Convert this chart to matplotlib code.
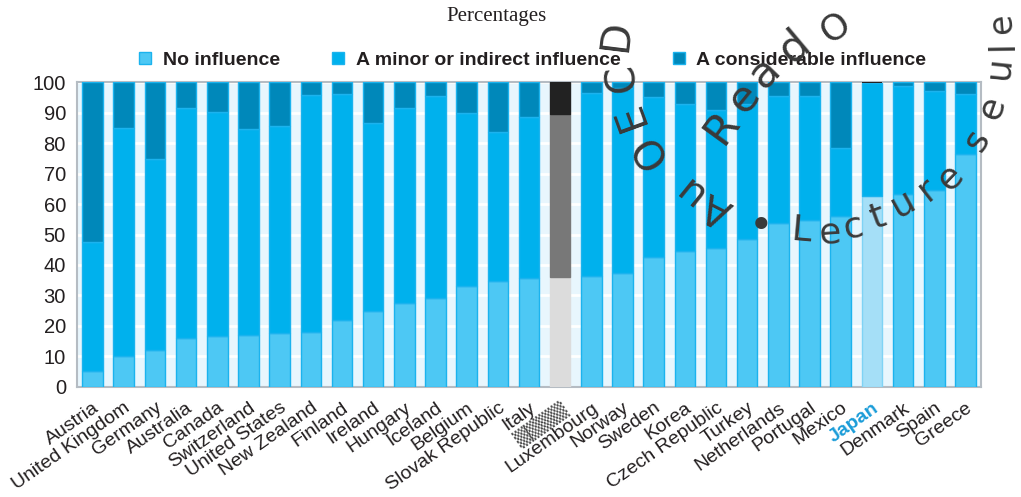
import matplotlib
matplotlib.use("Agg")
import matplotlib.pyplot as plt
import numpy as np
from matplotlib.lines import Line2D

# ---------------- data ----------------
countries = ["Austria", "United Kingdom", "Germany", "Australia", "Canada",
             "Switzerland", "United States", "New Zealand", "Finland", "Ireland",
             "Hungary", "Iceland", "Belgium", "Slovak Republic", "Italy", "OECD",
             "Luxembourg", "Norway", "Sweden", "Korea", "Czech Republic", "Turkey",
             "Netherlands", "Portugal", "Mexico", "Japan", "Denmark", "Spain", "Greece"]
no_influence = [5.0, 10.1, 12.0, 16.1, 16.8, 17.1, 17.7, 18.1, 22.0, 24.9,
                27.4, 29.0, 33.2, 34.8, 35.8, 36.0, 36.4, 37.5, 42.7, 44.7,
                45.7, 48.4, 53.8, 54.8, 56.1, 62.8, 63.3, 64.6, 76.3]
minor_influence = [42.6, 75.0, 62.9, 75.4, 73.5, 67.5, 68.0, 77.8, 74.3, 61.6,
                   64.1, 66.5, 56.8, 48.8, 52.9, 53.6, 60.2, 60.5, 52.6, 48.3,
                   45.1, 44.6, 41.7, 40.7, 22.4, 36.9, 35.6, 32.6, 20.0]
considerable_influence = [52.4, 14.9, 25.1, 8.5, 9.7, 15.4, 14.3, 4.1, 3.7, 13.5,
                          8.5, 4.5, 10.0, 16.4, 11.3, 10.4, 3.4, 2.0, 4.7, 7.0,
                          9.2, 7.0, 4.5, 4.5, 21.5, 0.3, 1.1, 2.8, 3.7]
series_names = ["No influence", "A minor or indirect influence", "A considerable influence"]
yticks = list(range(0, 101, 10))
title = "Percentages"

# ---------------- style ----------------
W, H = 1021, 497
SANS = "Liberation Sans"
TXT = "#231F20"
col_no, col_minor, col_cons = "#4DC8F4", "#00B1ED", "#0088BA"
edge = "#1BB3EE"

fig = plt.figure(figsize=(W / 100, H / 100), dpi=100)
ax = fig.add_axes([77 / W, 1 - 386.7 / H, (981 - 77) / W, (386.7 - 82.3) / H])

x = np.arange(len(countries))
no = np.array(no_influence)
mi = np.array(minor_influence)
co = np.array(considerable_influence)

def cols(normal, oecd, japan=None):
    out = []
    for c in countries:
        if c == "OECD":
            out.append(oecd)
        elif c == "Japan" and japan is not None:
            out.append(japan)
        else:
            out.append(normal)
    return out

bw = 0.66
ax.bar(x, no, width=bw, color=cols(col_no, "#DCDCDC", "#A5DFF7"),
       edgecolor=cols(edge, "#DCDCDC", "#7FD3F5"), linewidth=1, zorder=3)
ax.bar(x, mi, bottom=no, width=bw, color=cols(col_minor, "#787878"),
       edgecolor=cols(edge, "#787878"), linewidth=1, zorder=3)
ax.bar(x, co, bottom=no + mi, width=bw, color=cols(col_cons, "#222222", "#222222"),
       edgecolor=cols(edge, "#222222", "none"), linewidth=1, zorder=3)

ax.set_facecolor("#E8F6FD")
ax.set_xlim(-0.5, len(countries) - 0.5)
ax.set_ylim(0, 100)
ax.set_yticks(yticks)
ax.yaxis.grid(True, color="white", linewidth=2, zorder=1)
ax.set_axisbelow(True)
for s in ax.spines.values():
    s.set_color("#B5BCC3")
    s.set_linewidth(1.5)

ax.tick_params(axis="y", length=0, pad=8, labelsize=14.5, labelcolor=TXT)
for lab in ax.get_yticklabels():
    lab.set_fontfamily(SANS)

labels = ["\u2592\u2592\u2592\u2592" if c == "OECD" else c for c in countries]
ax.set_xticks(x)
ax.set_xticklabels(labels, rotation=35, ha="right", rotation_mode="anchor",
                   fontsize=14, fontfamily=SANS, color=TXT)
ax.tick_params(axis="x", length=0, pad=9)
for lab, c in zip(ax.get_xticklabels(), countries):
    if c == "Japan":
        lab.set_color("#1A9CD8")
        lab.set_fontweight("bold")
    if c == "OECD":
        lab.set_color("#4A4A4A")
        lab.set_fontfamily("DejaVu Sans")
        lab.set_fontsize(14)

# legend
handles = [Line2D([], [], ls="", marker="s", markersize=9, markerfacecolor=fc,
                  markeredgecolor=edge, markeredgewidth=1)
           for fc in (col_no, col_minor, col_cons)]
fig.legend(handles, series_names, loc="center", bbox_to_anchor=(0.522, 1 - 60 / H),
           ncol=3, frameon=False, handlelength=0.6, handletextpad=0.6,
           columnspacing=2.7, prop={"family": SANS, "weight": "bold", "size": 14},
           labelcolor=TXT)

fig.text(496 / W, 1 - 17 / H, title, ha="center", va="center",
         fontfamily="Liberation Serif", fontsize=15, color=TXT)

# watermark overlay
wm = "#3A3A3A"
wm_chars = [
    ("A", 717, 208, 153, 29), ("u", 687, 190, 141, 29), ("O", 650, 150, 123, 29),
    ("E", 630, 115, 110, 29), ("C", 623, 77, 97, 29), ("D", 617, 35, 83, 29),
    ("R", 722, 127, 54, 31), ("e", 744, 98, 51, 31), ("a", 765, 73, 46, 31),
    ("d", 794, 47, 40, 31), ("O", 836, 27, 35, 26),
    ("\u2022", 761, 227, 0, 30),
    ("L", 801, 231, -5, 26), ("e", 830, 233, 4, 26), ("c", 854, 227, 12, 26),
    ("t", 878, 217, 20, 26), ("u", 903, 203, 29, 26), ("r", 927, 190, 38, 26),
    ("e", 950, 177, 46, 26), ("s", 977, 140, 60, 26), ("e", 992, 107, 71, 26),
    ("u", 999, 68, 84, 26), ("l", 1003, 45, 91, 26), ("e", 1002, 24, 95, 24),
]
for ch, px, py, rot, fs in wm_chars:
    fig.text(px / W, 1 - py / H, ch, rotation=rot, rotation_mode="anchor",
             ha="center", va="center", fontsize=fs, color=wm,
             fontfamily="DejaVu Sans", zorder=10)

fig.savefig("out.png", dpi=100)
